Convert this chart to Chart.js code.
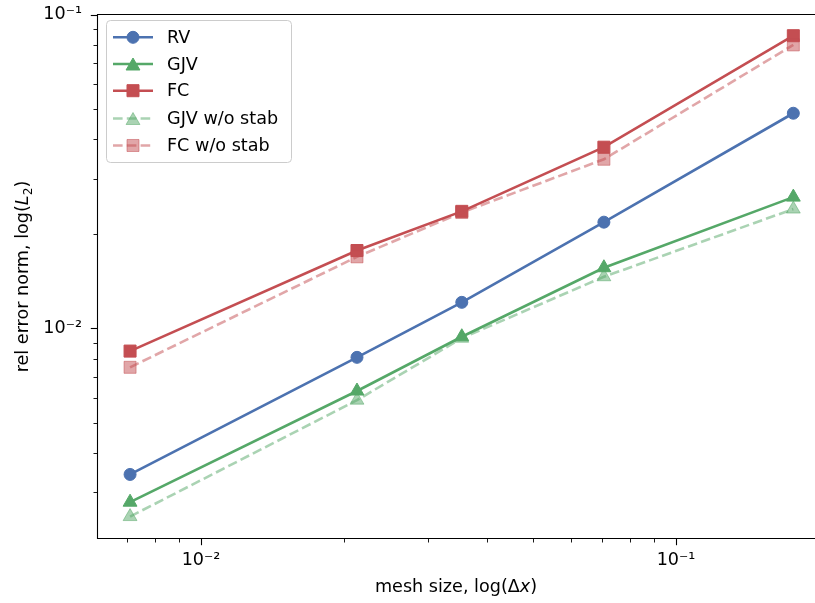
<!DOCTYPE html>
<html>
<head>
<meta charset="utf-8">
<script src="https://cdn.jsdelivr.net/npm/chart.js@4.4.1/dist/chart.umd.min.js"></script>
<style>
  html, body { margin: 0; padding: 0; background: #fff; }
  canvas { display: block; }
</style>
</head>
<body>
<canvas id="convChart" width="815" height="603"></canvas>
<script>
// mesh sizes and relative L2 error norms
const meshSize = [0.00709, 0.0213, 0.0354, 0.0705, 0.1766];
const rvErr = [0.00342, 0.00808, 0.0121, 0.0218, 0.0485];
const gjvErr = [0.00279, 0.00631, 0.0094, 0.0156, 0.0262];
const fcErr = [0.00846, 0.0177, 0.0236, 0.0378, 0.0857];
const gjvNoStabErr = [0.00251, 0.0059, 0.0093, 0.0146, 0.0240];
const fcNoStabErr = [0.00751, 0.0169, 0.0234, 0.0346, 0.0801];
const seriesLabels = ['RV', 'GJV', 'FC', 'GJV w/o stab', 'FC w/o stab'];
const majorTickLabels = { '-2': '10\u207B\u00B2', '-1': '10\u207B\u00B9' };

const FONT = '"DejaVu Sans", sans-serif';
const FS = 17.6;

const blue = '#4C72B0', green = '#55A868', red = '#C44E52';
const greenLight = 'rgba(85,168,104,0.5)', redLight = 'rgba(196,78,82,0.5)';

function pts(ys) {
    return meshSize.map((x, i) => ({ x: x, y: ys[i] }));
}

function series(label, ys, color, style, radius, dashed, order) {
    return {
        label: label,
        data: pts(ys),
        borderColor: color,
        backgroundColor: color,
        pointBackgroundColor: color,
        pointBorderColor: color,
        pointBorderWidth: 1,
        pointStyle: style,
        pointRadius: radius,
        borderWidth: 2.6,
        borderDash: dashed ? [9.6, 4.2] : [],
        tension: 0,
        order: order
    };
}

// powers of ten and 2..9 multiples inside [min, max]
function logTicks(min, max) {
    const out = [];
    for (let e = Math.floor(Math.log10(min)); e <= Math.ceil(Math.log10(max)); e++) {
        for (let m = 1; m <= 9; m++) {
            const v = m * Math.pow(10, e);
            if (v >= min && v <= max) out.push({ v: v, major: m === 1 });
        }
    }
    return out;
}

function drawParts(ctx, parts, cx, cy, angle) {
    ctx.save();
    ctx.translate(cx, cy);
    ctx.rotate(angle);
    ctx.textBaseline = 'alphabetic';
    const fontOf = p => (p.italic ? 'italic ' : '') + (p.sub ? FS * 0.7 : FS) + 'px ' + FONT;
    let total = 0;
    parts.forEach(p => { ctx.font = fontOf(p); p.w = ctx.measureText(p.text).width; total += p.w; });
    let x = -total / 2;
    parts.forEach(p => {
        ctx.font = fontOf(p);
        ctx.fillStyle = '#000';
        ctx.fillText(p.text, x, FS * 0.36 + (p.sub ? FS * 0.22 : 0));
        x += p.w;
    });
    ctx.restore();
}

function drawMarker(ctx, style, x, y, r, color) {
    ctx.save();
    ctx.fillStyle = color;
    ctx.strokeStyle = color;
    ctx.lineWidth = 1;
    Chart.helpers.drawPoint(ctx, { pointStyle: style, radius: r, borderWidth: 1 }, x, y);
    ctx.restore();
}

function noPadding(scale) {
    scale.paddingLeft = 0;
    scale.paddingRight = 0;
    scale.paddingTop = 0;
    scale.paddingBottom = 0;
}

const framePlugin = {
    id: 'frame',
    afterDatasetsDraw(chart) {
        const ctx = chart.ctx;
        const a = chart.chartArea;
        ctx.save();
        ctx.strokeStyle = '#000';
        ctx.lineWidth = 1.1;
        // left, top and bottom spines (right one sits on the canvas edge)
        ctx.beginPath();
        ctx.moveTo(a.right + 1, a.top + 0.5);
        ctx.lineTo(a.left + 0.5, a.top + 0.5);
        ctx.lineTo(a.left + 0.5, a.bottom - 0.5);
        ctx.lineTo(a.right + 1, a.bottom - 0.5);
        ctx.stroke();

        const xs = chart.scales.x, ys = chart.scales.y;
        logTicks(xs.min, xs.max).forEach(t => {
            const px = Math.round(xs.getPixelForValue(t.v)) + 0.5;
            const len = t.major ? 6.2 : 3.5;
            ctx.lineWidth = t.major ? 1.1 : 0.9;
            ctx.beginPath();
            ctx.moveTo(px, a.bottom);
            ctx.lineTo(px, a.bottom + len);
            ctx.stroke();
        });
        logTicks(ys.min, ys.max).forEach(t => {
            const py = Math.round(ys.getPixelForValue(t.v)) + 0.5;
            const len = t.major ? 6.2 : 3.5;
            ctx.lineWidth = t.major ? 1.1 : 0.9;
            ctx.beginPath();
            ctx.moveTo(a.left, py);
            ctx.lineTo(a.left - len, py);
            ctx.stroke();
        });
        ctx.restore();
    },
    afterDraw(chart) {
        const ctx = chart.ctx;
        const a = chart.chartArea;

        // axis titles
        drawParts(ctx, [
            { text: 'mesh size, log(\u0394' },
            { text: 'x', italic: true },
            { text: ')' }
        ], (a.left + a.right) / 2, 586, 0);
        drawParts(ctx, [
            { text: 'rel error norm, log(' },
            { text: 'L', italic: true },
            { text: '2', sub: true },
            { text: ')' }
        ], 22, (a.top + a.bottom) / 2, -Math.PI / 2);

        // legend box
        const bx = 106.5, by = 20.5, bw = 185, bh = 142;
        ctx.save();
        ctx.beginPath();
        ctx.roundRect(bx, by, bw, bh, 4);
        ctx.fillStyle = 'rgba(255,255,255,0.8)';
        ctx.fill();
        ctx.strokeStyle = '#cccccc';
        ctx.lineWidth = 1;
        ctx.stroke();

        const rowY = [37.3, 64, 90.7, 118.5, 145.5];
        const byLabel = {};
        chart.data.datasets.forEach(ds => { byLabel[ds.label] = ds; });
        seriesLabels.forEach((lab, i) => {
            const ds = byLabel[lab];
            const y = rowY[i];
            ctx.save();
            ctx.strokeStyle = ds.borderColor;
            ctx.lineWidth = ds.borderWidth;
            ctx.setLineDash(ds.borderDash);
            ctx.beginPath();
            ctx.moveTo(113, y);
            ctx.lineTo(153, y);
            ctx.stroke();
            ctx.restore();
            drawMarker(ctx, ds.pointStyle, 133, y + (ds.pointStyle === 'triangle' ? 2 : 0), ds.pointRadius, ds.pointBackgroundColor);
            ctx.fillStyle = '#000';
            ctx.font = FS + 'px ' + FONT;
            ctx.textBaseline = 'middle';
            ctx.textAlign = 'left';
            ctx.fillText(lab, 167, y + 1);
        });
        ctx.restore();
    }
};

const ctx = document.getElementById('convChart').getContext('2d');

new Chart(ctx, {
    type: 'line',
    data: {
        datasets: [
            series('RV', rvErr, blue, 'circle', 6, false, 5),
            series('GJV', gjvErr, green, 'triangle', 8, false, 4),
            series('FC', fcErr, red, 'rect', 8.5, false, 3),
            series('GJV w/o stab', gjvNoStabErr, greenLight, 'triangle', 8, true, 2),
            series('FC w/o stab', fcNoStabErr, redLight, 'rect', 8.5, true, 1)
        ]
    },
    options: {
        responsive: false,
        animation: false,
        layout: { autoPadding: false, padding: { left: 0, right: 0, top: 14, bottom: 0 } },
        plugins: {
            legend: { display: false },
            tooltip: { enabled: false }
        },
        scales: {
            x: {
                type: 'logarithmic',
                min: 0.006040,
                max: 0.19616,
                grid: { display: false, drawTicks: false },
                border: { display: false },
                ticks: {
                    autoSkip: false,
                    maxRotation: 0,
                    padding: 11,
                    color: '#000',
                    font: { family: FONT, size: FS },
                    callback: function (value) {
                        const e = Math.log10(value);
                        return Math.abs(e - Math.round(e)) < 1e-9 ? (majorTickLabels[Math.round(e)] || '') : '';
                    }
                },
                afterFit: function (scale) { scale.height = 64; noPadding(scale); }
            },
            y: {
                type: 'logarithmic',
                min: 0.002129,
                max: 0.10051,
                grid: { display: false, drawTicks: false },
                border: { display: false },
                ticks: {
                    autoSkip: false,
                    padding: 15,
                    color: '#000',
                    font: { family: FONT, size: FS },
                    callback: function (value) {
                        const e = Math.log10(value);
                        return Math.abs(e - Math.round(e)) < 1e-9 ? (majorTickLabels[Math.round(e)] || '') : '';
                    }
                },
                afterFit: function (scale) { scale.width = 97; noPadding(scale); }
            }
        }
    },
    plugins: [framePlugin]
});
</script>
</body>
</html>
